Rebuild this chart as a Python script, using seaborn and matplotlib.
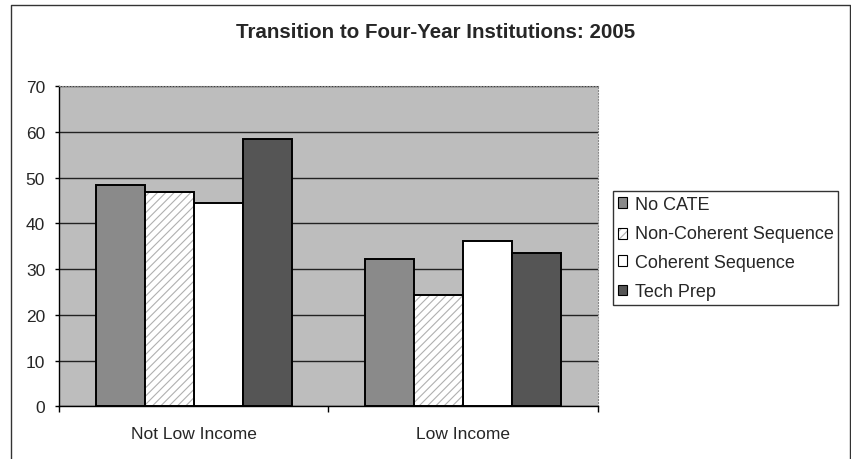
import numpy as np
import pandas as pd
import matplotlib
matplotlib.use("Agg")
import matplotlib.pyplot as plt
from matplotlib.lines import Line2D
from matplotlib.patches import Patch, Rectangle
from matplotlib.legend_handler import HandlerBase
import seaborn as sns

# ---- data ----
groups = ["Not Low Income", "Low Income"]
series = ["No CATE", "Non-Coherent Sequence", "Coherent Sequence", "Tech Prep"]
no_cate = [48.5, 32.3]
non_coherent = [46.8, 24.3]
coherent = [44.5, 36.1]
tech_prep = [58.5, 33.5]
yticks = [0, 10, 20, 30, 40, 50, 60, 70]
title = "Transition to Four-Year Institutions: 2005"

colors = ["#8a8a8a", "#ffffff", "#ffffff", "#555555"]
hatch_color = "#b0b0b0"

values = [no_cate, non_coherent, coherent, tech_prep]
df = pd.DataFrame({
    "group": [g for s in series for g in groups],
    "series": [s for s in series for g in groups],
    "value": [v for vals in values for v in vals],
})

sns.set_style("white")
plt.rcParams["font.family"] = ["Liberation Sans", "DejaVu Sans"]
plt.rcParams["hatch.linewidth"] = 0.8

fig = plt.figure(figsize=(8.51, 4.60), dpi=100)
W, H = 851, 460
ax = fig.add_axes([59 / W, 1 - 407.3 / H, (598 - 59) / W, (407.3 - 87.3) / H])
ax.set_facecolor("#bdbdbd")

sns.barplot(data=df, x="group", y="value", hue="series", order=groups,
            hue_order=series, palette=colors, width=0.727, gap=0,
            edgecolor="black", linewidth=1.4, saturation=1, ax=ax,
            legend=False, zorder=3)

# light diagonal hatch on the Non-Coherent Sequence bars
for p in ax.containers[1]:
    ax.add_patch(Rectangle(p.get_xy(), p.get_width(), p.get_height(),
                           facecolor="white", edgecolor="none", zorder=3.2))
    ax.add_patch(Rectangle(p.get_xy(), p.get_width(), p.get_height(),
                           facecolor="none", edgecolor=hatch_color, linewidth=0,
                           hatch="////", zorder=3.5))
    p.set_zorder(4)
    p.set_facecolor("none")

ax.set_axisbelow(True)
ax.set_ylim(0, 70)
ax.set_xlim(-0.5, 1.5)
ax.set_yticks(yticks)
ax.yaxis.grid(True, color="#222222", linewidth=1.0)
ax.set_xlabel("")
ax.set_ylabel("")

ax.set_xticks([0, 1])
ax.set_xticklabels(groups)
ax.set_xticks([-0.5, 0.5, 1.5], minor=True)
ax.tick_params(axis="x", which="major", length=0, pad=14, labelsize=12.5)
ax.tick_params(axis="x", which="minor", length=4, width=1, direction="out",
               color="black", bottom=True)
ax.tick_params(axis="y", length=3, width=1, direction="out", color="black",
               pad=7, labelsize=12.5, left=True)

for side in ["left", "bottom"]:
    ax.spines[side].set_color("black")
    ax.spines[side].set_linewidth(1.0)
for side in ["top", "right"]:
    ax.spines[side].set_color("#888888")
    ax.spines[side].set_linewidth(0.8)
    ax.spines[side].set_linestyle(":")


class HatchHandler(HandlerBase):
    def create_artists(self, legend, orig, xd, yd, w, h, fontsize, trans):
        base = Rectangle((xd, yd), w, h, facecolor="white", edgecolor="none",
                         transform=trans)
        hat = Rectangle((xd, yd), w, h, facecolor="none", edgecolor=hatch_color,
                        linewidth=0, hatch="////", transform=trans)
        edge = Rectangle((xd, yd), w, h, facecolor="none", edgecolor="black",
                         linewidth=0.8, transform=trans)
        return [base, hat, edge]


handles = [Patch(facecolor=c, edgecolor="black", linewidth=0.8)
           for c in colors]
leg = fig.legend(handles, series, loc="upper left",
                 bbox_to_anchor=(613 / W, 1 - 192 / H), fontsize=13.0,
                 frameon=True, fancybox=False, edgecolor="black",
                 handlelength=0.55, handleheight=0.55, handletextpad=0.42,
                 labelspacing=0.68, borderpad=0.25, borderaxespad=0,
                 handler_map={handles[1]: HatchHandler()})
leg.get_frame().set_linewidth(1.0)

fig.text(436 / W, 1 - 32 / H, title, ha="center", va="center",
         fontsize=14.8, fontweight="bold")

# chart border (left, top, right)
x0, x1, y1 = 11 / W, 850 / W, 1 - 6 / H
fig.add_artist(Line2D([x0, x0, x1, x1], [-0.01, y1, y1, -0.01],
                      transform=fig.transFigure, color="#333333", linewidth=1.0))

fig.savefig("out.png", dpi=100)
